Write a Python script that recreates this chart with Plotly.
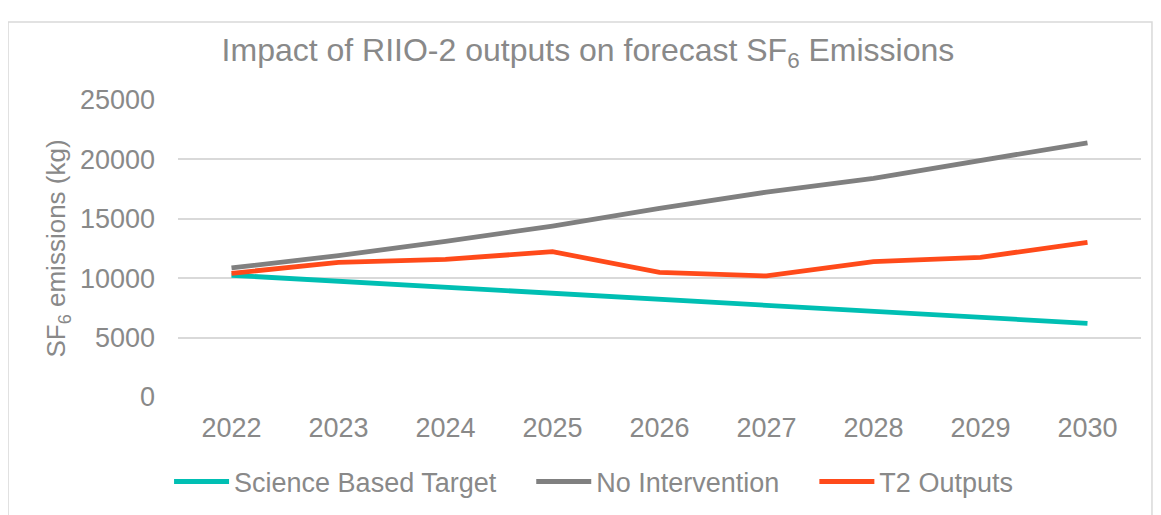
import plotly.graph_objects as go

years = ["2022", "2023", "2024", "2025", "2026", "2027", "2028", "2029", "2030"]
science_based_target = [10250, 9740, 9240, 8730, 8220, 7720, 7210, 6710, 6200]
no_intervention = [10860, 11900, 13100, 14390, 15880, 17250, 18410, 19950, 21400]
t2_outputs = [10410, 11340, 11590, 12230, 10490, 10190, 11390, 11760, 13020]

series_names = ["Science Based Target", "No Intervention", "T2 Outputs"]
series_colors = ["#00BFB3", "#808080", "#FF4A1A"]

TEXT = "#898989"
FONT = "Liberation Sans, Arial, sans-serif"
PAD = "\u00a0" * 4

fig = go.Figure()
for name, vals, col in zip(series_names, [science_based_target, no_intervention, t2_outputs], series_colors):
    fig.add_trace(go.Scatter(x=years, y=vals, name=name + PAD, mode="lines",
                             line=dict(color=col, width=4.8)))

fig.update_layout(
    width=1153, height=507,
    margin=dict(l=170, r=20, t=92, b=118, autoexpand=False),
    paper_bgcolor="white", plot_bgcolor="white",
    font=dict(family=FONT, color=TEXT, size=27),
    title=dict(text="Impact of RIIO-2 outputs on forecast SF<sub>6</sub> Emissions",
               x=0.503, xref="container", xanchor="center",
               y=1 - 42 / 507, yref="container", yanchor="middle",
               font=dict(size=32, color=TEXT, family=FONT)),
    xaxis=dict(type="category", range=[-0.5, 8.5], showgrid=False, showline=False,
               zeroline=False, ticks="", tickfont=dict(size=27, color=TEXT),
               ticklabelstandoff=12, automargin=False),
    yaxis=dict(range=[0, 25000], dtick=5000, tickformat="d", showgrid=True,
               gridcolor="#d9d9d9", gridwidth=1.5, zeroline=False, showline=False,
               ticks="", tickfont=dict(size=27, color=TEXT), ticklabelstandoff=22,
               automargin=False,
               title=dict(text="SF<sub>6</sub> emissions (kg)", standoff=6,
                          font=dict(size=26, color=TEXT))),
    legend=dict(orientation="h", x=0.4471, xanchor="center", y=-0.286, yanchor="middle",
                font=dict(size=27, color=TEXT), bgcolor="rgba(0,0,0,0)", itemwidth=55),
    shapes=[dict(type="rect", xref="paper", yref="paper",
                 x0=-0.1765, x1=1.0114, y0=-0.45, y1=1.2626,
                 line=dict(color="#d9d9d9", width=1.5), fillcolor="rgba(0,0,0,0)",
                 layer="below")],
    showlegend=True,
)

fig.write_html("out.html")
